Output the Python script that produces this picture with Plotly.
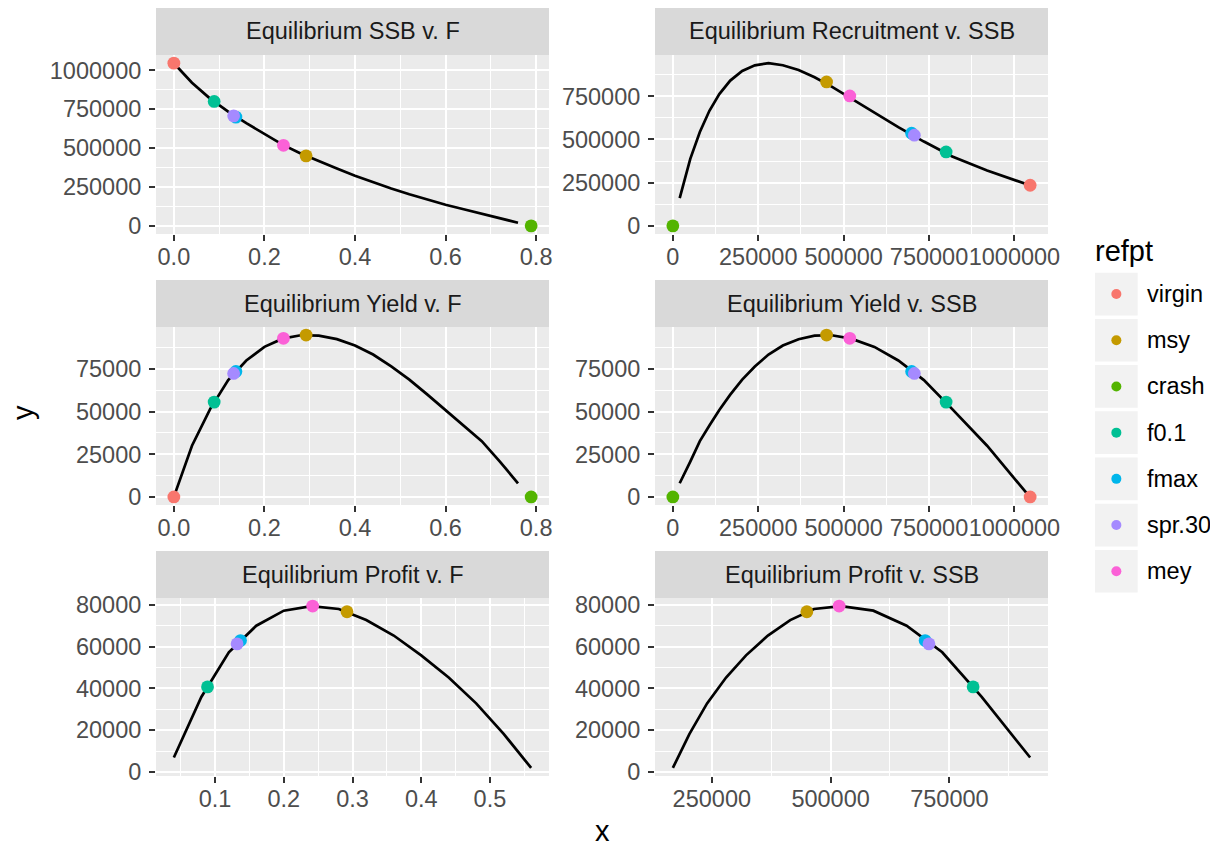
import plotly.graph_objects as go

# ---------------- data ----------------
f_grid = [0.00, 0.04, 0.08, 0.12, 0.16, 0.20, 0.24, 0.28, 0.32, 0.36,
          0.40, 0.44, 0.48, 0.52, 0.56, 0.60, 0.64, 0.68, 0.72, 0.76]
ssb_curve = [1045000, 920000, 818000, 735000, 660000, 590000, 522000, 465000, 415000, 368000,
             322000, 280000, 240000, 203000, 168000, 136000, 107000, 79000, 51000, 20000]
rec_curve = [235000, 320000, 402000, 488000, 572000, 655000, 738000, 806000, 860000, 902000,
             930000, 942000, 929000, 897000, 841000, 763000, 666000, 543000, 388000, 160000]
yield_curve = [0, 30000, 51500, 68500, 80000, 88000, 92800, 94800, 94600, 92500,
               88800, 83500, 76500, 68800, 60000, 51000, 41900, 32700, 20700, 8000]
profit_curve = [None, 6900, 35900, 57300, 70000, 77200, 79400, 78000, 72700, 65300,
                55800, 45200, 32800, 18200, 1900, None, None, None, None, None]

refpts = ["virgin", "msy", "crash", "f0.1", "fmax", "spr.30", "mey"]
ref_colors = ["#F8766D", "#C49A00", "#53B400", "#00C094", "#00B6EB", "#A58AFF", "#FB61D7"]
ref_f = [0.0, 0.292, 0.789, 0.089, 0.137, 0.132, 0.242]
ref_ssb = [1046000, 450000, 0, 800000, 699000, 707000, 518000]
ref_rec = [235000, 833000, 0, 428000, 536000, 525000, 752000]
ref_yield = [0, 94900, 0, 55600, 73600, 72400, 93000]
ref_profit = [None, 76700, None, 40700, 62900, 61300, 79400]

panel_titles = ["Equilibrium SSB v. F", "Equilibrium Recruitment v. SSB",
                "Equilibrium Yield v. F", "Equilibrium Yield v. SSB",
                "Equilibrium Profit v. F", "Equilibrium Profit v. SSB"]

ticks_f = [0.0, 0.2, 0.4, 0.6, 0.8]
ticks_f_profit = [0.1, 0.2, 0.3, 0.4, 0.5]
ticks_ssb = [0, 250000, 500000, 750000, 1000000]
ticks_ssb_profit = [250000, 500000, 750000]
ticks_ssb_y = [0, 250000, 500000, 750000, 1000000]
ticks_rec = [0, 250000, 500000, 750000]
ticks_yield = [0, 25000, 50000, 75000]
ticks_profit = [0, 20000, 40000, 60000, 80000]

# ---------------- layout constants ----------------
# the page body has an 8px margin, so the figure is 8px smaller and all
# reference pixel positions are shifted by OFF
OFF = 8
W, H = 1218 - OFF, 846 - OFF
cols = [(156, 549), (655, 1048)]
rows = [(55, 234), (327, 505), (598, 776)]
strips = [(8, 55), (280, 327), (551, 598)]

FONT = "Liberation Sans, Arial, sans-serif"
SMALL = 23.5
BASE = 29


def px(x):
    return (x - OFF) / W


def py(y):
    return 1 - (y - OFF) / H


def pairs(xs, ys):
    out = [(a, b) for a, b in zip(xs, ys) if a is not None and b is not None]
    return [a for a, _ in out], [b for _, b in out]


def rng(vals):
    lo, hi = min(vals), max(vals)
    s = hi - lo
    return [lo - 0.05 * s, hi + 0.05 * s]


def minors(majors, r):
    step = majors[1] - majors[0]
    cand = [majors[0] - step / 2] + [(a + b) / 2 for a, b in zip(majors[:-1], majors[1:])] + [majors[-1] + step / 2]
    return [c for c in cand if r[0] <= c <= r[1]]


def fmt_f(v):
    return f"{v:.1f}"


def fmt_i(v):
    return str(int(v))


panels = [
    (f_grid, ssb_curve, ref_f, ref_ssb, ticks_f, ticks_ssb_y, fmt_f),
    (ssb_curve, rec_curve, ref_ssb, ref_rec, ticks_ssb, ticks_rec, fmt_i),
    (f_grid, yield_curve, ref_f, ref_yield, ticks_f, ticks_yield, fmt_f),
    (ssb_curve, yield_curve, ref_ssb, ref_yield, ticks_ssb, ticks_yield, fmt_i),
    (f_grid, profit_curve, ref_f, ref_profit, ticks_f_profit, ticks_profit, fmt_f),
    (ssb_curve, profit_curve, ref_ssb, ref_profit, ticks_ssb_profit, ticks_profit, fmt_i),
]

fig = go.Figure()
shapes = []
annotations = []

for k, (lx, ly, qx, qy, xt, yt, xfmt) in enumerate(panels):
    r, c = divmod(k, 2)
    xname = "x" if k == 0 else f"x{k+1}"
    yname = "y" if k == 0 else f"y{k+1}"
    xkey = "xaxis" if k == 0 else f"xaxis{k+1}"
    ykey = "yaxis" if k == 0 else f"yaxis{k+1}"

    lx2, ly2 = pairs(lx, ly)
    qcols = [col for col, a, b in zip(ref_colors, qx, qy) if a is not None and b is not None]
    qx2, qy2 = pairs(qx, qy)

    fig.add_trace(go.Scatter(x=lx2, y=ly2, mode="lines", xaxis=xname, yaxis=yname,
                             line=dict(color="black", width=2.7), showlegend=False,
                             hoverinfo="skip"))
    fig.add_trace(go.Scatter(x=qx2, y=qy2, mode="markers", xaxis=xname, yaxis=yname,
                             marker=dict(color=qcols, size=12.8, line=dict(width=0)),
                             showlegend=False))

    xr = rng(lx2 + qx2)
    yr = rng(ly2 + qy2)
    common = dict(showgrid=True, gridcolor="white", gridwidth=2.2, zeroline=False,
                  showline=False, ticks="outside", ticklen=6, tickwidth=1.6,
                  tickcolor="#333333", tickfont=dict(family=FONT, size=SMALL, color="#4D4D4D"),
                  tickmode="array", fixedrange=True)
    fig.layout[xkey] = dict(
        domain=[px(cols[c][0]), px(cols[c][1])], anchor=yname, range=xr,
        tickvals=xt, ticktext=[xfmt(v) for v in xt], tickangle=0,
        minor=dict(showgrid=True, gridcolor="white", gridwidth=1.1,
                   tickmode="array", tickvals=minors(xt, xr), ticks=""),
        ticklabelstandoff=-4, **common)
    fig.layout[ykey] = dict(
        domain=[py(rows[r][1]), py(rows[r][0])], anchor=xname, range=yr,
        tickvals=yt, ticktext=[fmt_i(v) for v in yt],
        minor=dict(showgrid=True, gridcolor="white", gridwidth=1.1,
                   tickmode="array", tickvals=minors(yt, yr), ticks=""),
        ticklabelstandoff=3, **common)

    # strip
    shapes.append(dict(type="rect", xref="paper", yref="paper",
                       x0=px(cols[c][0]), x1=px(cols[c][1]),
                       y0=py(strips[r][1]), y1=py(strips[r][0]),
                       fillcolor="#D9D9D9", line=dict(width=0), layer="below"))
    annotations.append(dict(text=panel_titles[k], xref="paper", yref="paper",
                            x=px((cols[c][0] + cols[c][1]) / 2),
                            y=py((strips[r][0] + strips[r][1]) / 2),
                            xanchor="center", yanchor="middle", showarrow=False,
                            font=dict(family=FONT, size=SMALL, color="#1A1A1A")))

# axis titles
annotations.append(dict(text="x", xref="paper", yref="paper", x=px(602), y=py(831),
                        xanchor="center", yanchor="middle", showarrow=False,
                        font=dict(family=FONT, size=BASE, color="black")))
annotations.append(dict(text="y", xref="paper", yref="paper", x=px(23), y=py(413),
                        xanchor="center", yanchor="middle", showarrow=False, textangle=-90,
                        font=dict(family=FONT, size=BASE, color="black")))

# legend (drawn manually, ggplot style)
annotations.append(dict(text="refpt", xref="paper", yref="paper", x=px(1093), y=py(251),
                        xanchor="left", yanchor="middle", showarrow=False,
                        font=dict(family=FONT, size=BASE, color="black")))
key_top0, key_step, key_size = 272.7, 46.2, 42.7
key_left = 1095
for i, (name, col) in enumerate(zip(refpts, ref_colors)):
    top = key_top0 + i * key_step
    shapes.append(dict(type="rect", xref="paper", yref="paper",
                       x0=px(key_left), x1=px(key_left + key_size),
                       y0=py(top + key_size), y1=py(top),
                       fillcolor="#F2F2F2", line=dict(width=0), layer="below"))
    cx, cy, rr = key_left + key_size / 2, top + key_size / 2, 5
    shapes.append(dict(type="circle", xref="paper", yref="paper",
                       x0=px(cx - rr), x1=px(cx + rr), y0=py(cy + rr), y1=py(cy - rr),
                       fillcolor=col, line=dict(width=0), layer="above"))
    annotations.append(dict(text=name, xref="paper", yref="paper", x=px(1145), y=py(cy),
                            xanchor="left", yanchor="middle", showarrow=False,
                            font=dict(family=FONT, size=SMALL, color="black")))

fig.update_layout(width=W, height=H, margin=dict(l=0, r=0, t=0, b=0, autoexpand=False),
                  paper_bgcolor="white", plot_bgcolor="#EBEBEB", showlegend=False,
                  shapes=shapes, annotations=annotations, hovermode=False,
                  font=dict(family=FONT))

fig.write_html("out.html")
